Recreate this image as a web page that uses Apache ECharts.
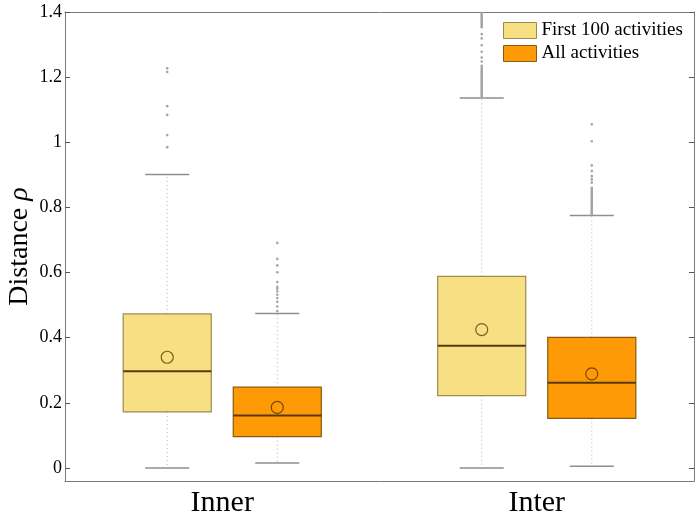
<!DOCTYPE html>
<html>
<head>
<meta charset="utf-8">
<script src="https://cdn.jsdelivr.net/npm/echarts@6/dist/echarts.min.js"></script>
<title>Distance rho</title>
<style>
  html, body { margin: 0; padding: 0; background: #fff; }
  #main { width: 699px; height: 516px; }
</style>
</head>
<body>
<div id="main"></div>
<script>
// data
var categories = ['Inner', 'Inter'];
var seriesNames = ['First 100 activities', 'All activities'];
// [lower whisker, Q1, median, Q3, upper whisker]
var first100Box = [[0, 0.172, 0.297, 0.473, 0.901], [0, 0.222, 0.375, 0.588, 1.136]];
var allBox = [[0.015, 0.096, 0.161, 0.248, 0.474], [0.005, 0.152, 0.262, 0.401, 0.775]];
var first100Mean = [0.340, 0.425];
var allMean = [0.186, 0.289];
var first100Outliers = [
  [0.985, 1.022, 1.084, 1.111, 1.216, 1.227],
  [1.140, 1.144, 1.148, 1.152, 1.156, 1.160, 1.164, 1.168, 1.172, 1.176, 1.180, 1.184,
   1.188, 1.192, 1.196, 1.200, 1.204, 1.208, 1.212, 1.216, 1.220, 1.225, 1.230, 1.235,
   1.248, 1.260, 1.278, 1.298, 1.319, 1.332, 1.353, 1.357, 1.361, 1.365, 1.369, 1.373,
   1.377, 1.381, 1.385, 1.389, 1.393, 1.397]
];
var allOutliers = [
  [0.482, 0.496, 0.510, 0.522, 0.532, 0.542, 0.550, 0.556, 0.571, 0.601, 0.622, 0.642, 0.691],
  [0.779, 0.783, 0.787, 0.791, 0.795, 0.799, 0.803, 0.807, 0.811, 0.815, 0.819, 0.823,
   0.827, 0.831, 0.835, 0.840, 0.845, 0.850, 0.855, 0.860, 0.876, 0.886, 0.896, 0.912,
   0.929, 1.003, 1.055]
];
var yTicks = [0, 0.2, 0.4, 0.6, 0.8, 1, 1.2, 1.4];

var serif = 'Liberation Serif';
var boxWidth = 0.28;   // share of a category band
var capWidth = 0.14;
var offsets = [-0.175, 0.175];

function boxRows(box, mean) {
  return box.map(function (b, i) { return [i].concat(b, [mean[i]]); });
}
function outlierRows(list) {
  var rows = [];
  list.forEach(function (vals, i) {
    vals.forEach(function (v) { rows.push([i, v]); });
  });
  return rows;
}

function makeBoxRender(offset, fill, edge, meanEdge) {
  return function (params, api) {
    var i = api.value(0);
    var band = api.size([1, 0])[0];
    var cx = api.coord([i, 0])[0] + offset * band;
    var half = boxWidth * band / 2;
    var capHalf = capWidth * band / 2;
    var y = function (k) { return api.coord([i, api.value(k)])[1]; };
    var lo = y(1), q1 = y(2), med = y(3), q3 = y(4), hi = y(5), mean = y(6);
    var dotted = { stroke: '#b2b2b2', lineWidth: 1, lineDash: [1, 3] };
    var cap = { stroke: '#8e8e8e', lineWidth: 1.5 };
    return {
      type: 'group',
      children: [
        { type: 'line', shape: { x1: cx, y1: q1, x2: cx, y2: lo }, style: dotted },
        { type: 'line', shape: { x1: cx, y1: q3, x2: cx, y2: hi }, style: dotted },
        { type: 'line', shape: { x1: cx - capHalf, y1: lo, x2: cx + capHalf, y2: lo }, style: cap },
        { type: 'line', shape: { x1: cx - capHalf, y1: hi, x2: cx + capHalf, y2: hi }, style: cap },
        { type: 'rect', shape: { x: cx - half, y: q3, width: half * 2, height: q1 - q3 },
          style: { fill: fill, stroke: edge, lineWidth: 1.2 } },
        { type: 'line', shape: { x1: cx - half, y1: med, x2: cx + half, y2: med },
          style: { stroke: '#5a3a0c', lineWidth: 2 } },
        { type: 'circle', shape: { cx: cx, cy: mean, r: 6 },
          style: { fill: 'none', stroke: meanEdge, lineWidth: 1.2 } }
      ]
    };
  };
}

function makeOutlierRender(offset) {
  return function (params, api) {
    var i = api.value(0);
    var band = api.size([1, 0])[0];
    var p = api.coord([i, api.value(1)]);
    return { type: 'circle', shape: { cx: p[0] + offset * band, cy: p[1], r: 1.3 },
      style: { fill: '#a4a4a4' } };
  };
}

var yellow = '#f7df84', orange = '#fd9a05';
var frameLine = { color: '#7a7a7a', width: 1 };
var tick = { inside: true, length: 5, lineStyle: { color: '#555' } };

var myChart = echarts.init(document.getElementById('main'));
var option = {
  animation: false,
  grid: { left: 65, right: 5, top: 12, bottom: 35, outerBoundsMode: 'none' },
  legend: {
    left: 503, top: 21, padding: 0, orient: 'vertical', itemGap: 4,
    itemWidth: 33, itemHeight: 16, icon: 'rect', selectedMode: false,
    textStyle: { fontFamily: serif, fontSize: 19, color: '#000', lineHeight: 16 },
    data: [
      { name: seriesNames[0], itemStyle: { color: yellow, borderColor: '#9c8a55', borderWidth: 1 } },
      { name: seriesNames[1], itemStyle: { color: orange, borderColor: '#8a5a10', borderWidth: 1 } }
    ]
  },
  xAxis: [
    { type: 'category', data: categories, position: 'bottom',
      axisLine: { onZero: false, lineStyle: frameLine },
      axisTick: Object.assign({ alignWithLabel: true }, tick),
      axisLabel: { fontFamily: serif, fontSize: 30, color: '#000', margin: 7 } },
    { type: 'category', data: categories, position: 'top',
      axisLine: { onZero: false, lineStyle: frameLine },
      axisTick: Object.assign({ alignWithLabel: true }, tick),
      axisLabel: { show: false } }
  ],
  yAxis: [
    { type: 'value', min: -0.04, max: 1.4, position: 'left',
      axisLine: { show: true, onZero: false, lineStyle: frameLine },
      axisTick: Object.assign({ show: true, customValues: yTicks }, tick),
      axisLabel: { customValues: yTicks, fontFamily: serif, fontSize: 18, color: '#000', margin: 3 },
      splitLine: { show: false },
      name: '{a|Distance }{b|ρ}', nameLocation: 'middle', nameGap: 31, nameMoveOverlap: false,
      nameTextStyle: { rich: {
        a: { fontFamily: serif, fontSize: 28, color: '#000' },
        b: { fontFamily: serif, fontSize: 28, fontStyle: 'italic', color: '#000' }
      } } },
    { type: 'value', min: -0.04, max: 1.4, position: 'right',
      axisLine: { show: true, onZero: false, lineStyle: frameLine },
      axisTick: Object.assign({ show: true, customValues: yTicks }, tick),
      axisLabel: { show: false }, splitLine: { show: false } }
  ],
  series: [
    { name: seriesNames[0], type: 'custom', itemStyle: { color: yellow },
      renderItem: makeBoxRender(offsets[0], yellow, '#9c8a55', '#7d5f1e'),
      encode: { x: 0, y: [1, 2, 3, 4, 5, 6] }, data: boxRows(first100Box, first100Mean) },
    { name: seriesNames[1], type: 'custom', itemStyle: { color: orange },
      renderItem: makeBoxRender(offsets[1], orange, '#8a5a10', '#74450a'),
      encode: { x: 0, y: [1, 2, 3, 4, 5, 6] }, data: boxRows(allBox, allMean) },
    { name: 'first100-outliers', type: 'custom', renderItem: makeOutlierRender(offsets[0]),
      encode: { x: 0, y: 1 }, data: outlierRows(first100Outliers) },
    { name: 'all-outliers', type: 'custom', renderItem: makeOutlierRender(offsets[1]),
      encode: { x: 0, y: 1 }, data: outlierRows(allOutliers) }
  ]
};
myChart.setOption(option);
window.onresize = function () { myChart.resize(); };
</script>
</body>
</html>
